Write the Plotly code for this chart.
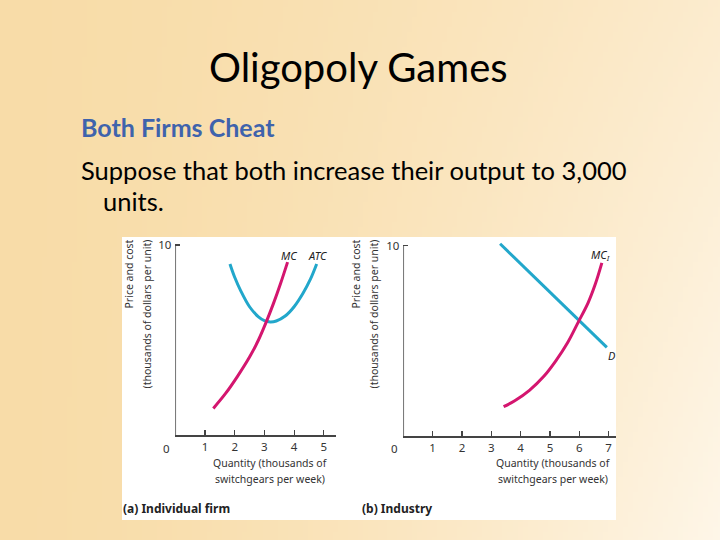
import base64, struct, zlib
import plotly.graph_objects as go

# ---------------- data ----------------
firm_atc_q = [1.84, 2.0, 2.2, 2.5, 2.8, 3.0, 3.2, 3.4, 3.7, 4.0, 4.3, 4.55, 4.76]
firm_atc_p = [9.0, 8.3, 7.6, 6.75, 6.22, 6.02, 5.95, 6.0, 6.26, 6.75, 7.46, 8.2, 9.0]
firm_mc_q = [1.28, 1.7, 2.1, 2.5, 2.8, 3.05, 3.3, 3.55, 3.78]
firm_mc_p = [1.4, 2.2, 3.1, 4.1, 5.0, 5.9, 6.9, 8.0, 9.1]
ind_d_q = [3.3, 6.94]
ind_d_p = [10.1, 4.66]
ind_mc_q = [3.42, 3.8, 4.3, 4.8, 5.2, 5.6, 5.97, 6.3, 6.55, 6.77]
ind_mc_p = [1.54, 1.85, 2.4, 3.15, 3.95, 4.9, 6.0, 7.0, 8.0, 9.1]
firm_xticks = [1, 2, 3, 4, 5]
ind_xticks = [1, 2, 3, 4, 5, 6, 7]
y_ticks = [10]

W, H = 720, 540
CYAN = "#22A7CB"
MAGENTA = "#D4166F"
AXC = "#444444"
TXT = "#333333"
CF = "Noto Sans"


def px(x):
    return x / W


def py(y):
    return 1 - y / H


# ---------------- background gradient image ----------------
def make_png(w, h):
    A = (248, 220, 168)
    B = (254, 246, 232)
    rows = []
    for j in range(h):
        row = bytearray([0])
        for i in range(w):
            xf = i / (w - 1)
            yf = j / (h - 1)
            t = (xf ** 1.6) * (0.6 + 0.4 * yf)
            for k in range(3):
                row.append(int(round(A[k] + (B[k] - A[k]) * t)))
        rows.append(bytes(row))
    raw = b"".join(rows)

    def chunk(tag, data):
        c = struct.pack(">I", len(data)) + tag + data
        return c + struct.pack(">I", zlib.crc32(tag + data) & 0xFFFFFFFF)

    png = b"\x89PNG\r\n\x1a\n"
    png += chunk(b"IHDR", struct.pack(">IIBBBBB", w, h, 8, 2, 0, 0, 0))
    png += chunk(b"IDAT", zlib.compress(raw, 9))
    png += chunk(b"IEND", b"")
    return "data:image/png;base64," + base64.b64encode(png).decode()


bg = make_png(144, 108)

fig = go.Figure()

line_kw = dict(mode="lines", line_shape="spline", hoverinfo="skip", showlegend=False)
fig.add_trace(go.Scatter(x=firm_atc_q, y=firm_atc_p, xaxis="x", yaxis="y",
                         line=dict(color=CYAN, width=3), **line_kw))
fig.add_trace(go.Scatter(x=firm_mc_q, y=firm_mc_p, xaxis="x", yaxis="y",
                         line=dict(color=MAGENTA, width=3), **line_kw))
fig.add_trace(go.Scatter(x=ind_d_q, y=ind_d_p, xaxis="x2", yaxis="y2",
                         line=dict(color=CYAN, width=3), **line_kw))
fig.add_trace(go.Scatter(x=ind_mc_q, y=ind_mc_p, xaxis="x2", yaxis="y2",
                         line=dict(color=MAGENTA, width=3), **line_kw))

# axes geometry (pixels)
L_x0, L_unit, L_y0, L_yunit = 175.3, 29.7, 435, 19.0
R_x0, R_unit, R_y0, R_yunit = 403.3, 29.33, 436, 19.03
L_xmax, R_xmax, YMAX = 5.4, 7.25, 10.4

ax_common = dict(showgrid=False, zeroline=False, ticks="inside", ticklen=5,
                 tickcolor=AXC, tickwidth=1.2,
                 tickfont=dict(family=CF, size=11.5, color=TXT))

fig.update_layout(
    xaxis=dict(domain=[px(L_x0), px(L_x0 + L_xmax * L_unit)], range=[0, L_xmax],
               anchor="y", tickvals=firm_xticks, showline=True, linecolor=AXC,
               linewidth=1.5, ticklabelstandoff=1, **ax_common),
    yaxis=dict(domain=[py(L_y0), py(L_y0 - YMAX * L_yunit)], range=[0, YMAX],
               anchor="x", tickvals=y_ticks, showline=False, ticklabelstandoff=3,
               **ax_common),
    xaxis2=dict(domain=[px(R_x0), px(R_x0 + R_xmax * R_unit)], range=[0, R_xmax],
                anchor="y2", tickvals=ind_xticks, showline=True, linecolor=AXC,
                linewidth=1.5, ticklabelstandoff=1, **ax_common),
    yaxis2=dict(domain=[py(R_y0), py(R_y0 - YMAX * R_yunit)], range=[0, YMAX],
                anchor="x2", tickvals=y_ticks, showline=False, ticklabelstandoff=3,
                **ax_common),
)

shapes = [
    dict(type="rect", xref="paper", yref="paper", x0=px(122), x1=px(616),
         y0=py(520), y1=py(237), fillcolor="white", line=dict(width=0), layer="below"),
    dict(type="line", xref="x", yref="y", x0=0, x1=0, y0=0, y1=10,
         line=dict(color=AXC, width=1.5)),
    dict(type="line", xref="x2", yref="y2", x0=0, x1=0, y0=0, y1=10,
         line=dict(color=AXC, width=1.5)),
]

ann = []


def text(x, y, s, size, color="black", family="Lato", xanchor="center",
         yanchor="middle", angle=0):
    ann.append(dict(x=px(x), y=py(y), xref="paper", yref="paper", text=s,
                    showarrow=False, xanchor=xanchor, yanchor=yanchor,
                    textangle=angle, font=dict(family=family, size=size, color=color)))


# slide texts
text(358, 67, "Oligopoly Games", 40)
text(79, 127, "<b>Both Firms Cheat</b>", 25, color="#3F63AC", xanchor="left")
text(79, 170, "Suppose that both increase their output to 3,000", 25.5, xanchor="left")
text(101, 201, "units.", 25.5, xanchor="left")

# panel (a)
text(128, 238, "Price and cost", 10.5, TXT, CF, yanchor="top", angle=-90)
text(146, 238, "(thousands of dollars per unit)", 10.5, TXT, CF, yanchor="top", angle=-90)
text(166, 448, "0", 11.5, TXT, CF)
text(270, 463, "Quantity (thousands of", 10.5, TXT, CF)
text(270, 479, "switchgears per week)", 10.5, TXT, CF)
text(121, 508, "<b>(a) Individual firm</b>", 12, "#222222", CF, xanchor="left")
text(289, 255, "<i>MC</i>", 11, "#222222", CF)
text(317, 255, "<i>ATC</i>", 11, "#222222", CF)

# panel (b)
text(355, 238, "Price and cost", 10.5, TXT, CF, yanchor="top", angle=-90)
text(373, 238, "(thousands of dollars per unit)", 10.5, TXT, CF, yanchor="top", angle=-90)
text(394, 448, "0", 11.5, TXT, CF)
text(553, 463, "Quantity (thousands of", 10.5, TXT, CF)
text(553, 479, "switchgears per week)", 10.5, TXT, CF)
text(360, 508, "<b>(b) Industry</b>", 12, "#222222", CF, xanchor="left")
text(600, 255, "<i>MC<sub>I</sub></i>", 11, "#222222", CF)
text(611, 355, "<i>D</i>", 11, "#222222", CF)

fig.update_layout(
    width=W, height=H, margin=dict(l=0, r=0, t=0, b=0),
    paper_bgcolor="#F9E0B0", plot_bgcolor="rgba(0,0,0,0)",
    shapes=shapes, annotations=ann, hovermode=False,
    images=[dict(source=bg, xref="paper", yref="paper", x=0, y=1, sizex=1, sizey=1,
                 sizing="stretch", xanchor="left", yanchor="top", layer="below")],
)

fig.write_html("out.html", config={"displayModeBar": False, "staticPlot": True},
               post_script="document.body.style.margin='0';document.body.style.overflow='hidden';")
